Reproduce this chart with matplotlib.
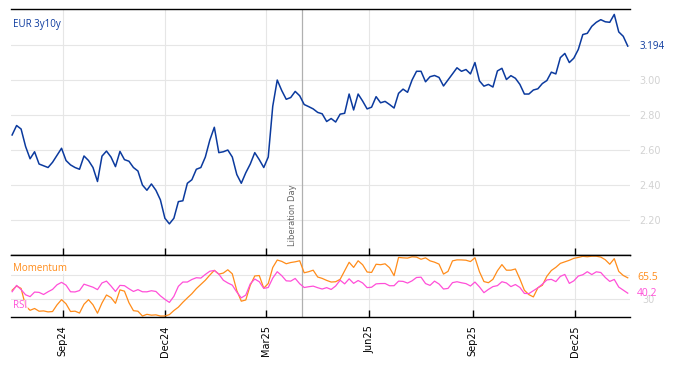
import matplotlib
matplotlib.use("Agg")
import matplotlib.pyplot as plt
import matplotlib.dates as mdates
import pandas as pd

# 数据 (每4天一个点)
start_date = "2024-07-18"
eur_3y10y = [
    2.686, 2.74, 2.72, 2.62, 2.55, 2.59, 2.52, 2.51, 2.50, 2.53,
    2.57, 2.61, 2.54, 2.515, 2.50, 2.49, 2.566, 2.54, 2.50, 2.42,
    2.565, 2.594, 2.56, 2.505, 2.592, 2.545, 2.536, 2.50, 2.48, 2.40,
    2.37, 2.406, 2.37, 2.315, 2.21, 2.178, 2.21, 2.305, 2.31, 2.41,
    2.43, 2.49, 2.50, 2.56, 2.657, 2.73, 2.585, 2.59, 2.60, 2.56,
    2.46, 2.41, 2.47, 2.52, 2.585, 2.545, 2.50, 2.56, 2.85, 3.00,
    2.94, 2.89, 2.90, 2.935, 2.91, 2.86, 2.848, 2.835, 2.815, 2.807,
    2.763, 2.78, 2.76, 2.805, 2.81, 2.92, 2.829, 2.92, 2.88, 2.835,
    2.845, 2.905, 2.87, 2.878, 2.86, 2.84, 2.924, 2.948, 2.93, 3.00,
    3.05, 3.05, 2.99, 3.019, 3.026, 3.015, 2.966, 3.00, 3.035, 3.07,
    3.05, 3.06, 3.035, 3.10, 2.995, 2.965, 2.975, 2.96, 3.052, 3.067,
    3.003, 3.025, 3.01, 2.975, 2.92, 2.92, 2.943, 2.95, 2.98, 2.997,
    3.045, 3.035, 3.128, 3.152, 3.10, 3.125, 3.175, 3.26, 3.267, 3.307,
    3.33, 3.345, 3.333, 3.33, 3.375, 3.275, 3.25, 3.194,
]
rsi = [
    42.6, 53, 46, 37.5, 34.5, 42, 41.5, 38, 42.5, 46.4,
    54, 58, 53.4, 42.5, 42.2, 44.5, 55, 52.5, 50, 46,
    57, 60, 52, 43, 53, 52.5, 47.5, 43, 46, 42.5,
    42.4, 44.2, 43, 35.8, 30, 25, 35, 51.5, 58.5, 58.5,
    62.7, 65.6, 65, 71, 76.3, 77.5, 71.6, 61.5, 57, 53.4,
    42, 32.5, 37, 55.5, 63.5, 59, 48.1, 49.5, 65, 75.5,
    69, 60.5, 60, 64.4, 55.7, 49.5, 50.8, 51.8, 49.2, 47,
    49.3, 46.3, 52, 61.5, 55.5, 63.8, 56.3, 61, 57, 49.3,
    50, 55.5, 56, 56.1, 52.4, 52.5, 60, 59.6, 56.8, 60.5,
    66, 66.5, 56, 53, 60, 55.3, 47, 48, 57.5, 59,
    57.3, 55.9, 52, 58.5, 50.5, 41, 46.4, 51, 52.6, 59,
    57, 51, 54.4, 49.6, 39.8, 39.5, 44.2, 49, 55, 62,
    62.9, 59.2, 67.8, 71, 56.3, 60.5, 68.4, 70.5, 75.5, 70.8,
    75.3, 74.2, 66, 59.5, 62.8, 50.2, 45.3, 40.2,
]
momentum = [
    45, 52, 48, 19, 12, 15, 10.5, 11, 9.4, 10,
    21, 29.5, 22.7, 10, 10.6, 7.5, 22, 29.5, 21, 7.2,
    24, 37.2, 33, 23.5, 45.6, 43.5, 24.5, 11.4, 10.5, 2.6,
    5.4, 4, 4.5, 2.6, 2.6, 4.9, 11.6, 17.2, 25.2, 32.4,
    39.3, 47.7, 54.5, 61.5, 70, 77.8, 71.5, 73.3, 78.7, 72,
    44.5, 27, 29, 53.2, 68.5, 69.2, 48.5, 56, 82.4, 94.7,
    92.5, 88.6, 90.6, 91.8, 93.5, 73.7, 75.5, 78, 66.8, 64.5,
    61.2, 58.5, 59, 63, 77.1, 91, 82.6, 93.5, 87, 75,
    74.3, 87.8, 87, 88.5, 82, 69, 99, 98.3, 97.9, 100,
    99.5, 96, 98.3, 93.4, 91.2, 88, 71.6, 76, 93.3, 95,
    94.9, 94.4, 92.2, 98.5, 75.5, 59.3, 57.4, 63, 77, 87.2,
    78, 78, 80, 63.5, 45, 37.8, 34, 49, 53.2, 68,
    77.5, 82.7, 89.2, 91.8, 94.3, 97.5, 99, 100.8, 100.1, 101,
    101, 99.6, 95.2, 87.8, 97, 76, 69.3, 65.5,
]
event_date = "2025-04-02"
event_name = "Liberation Day"
tick_dates = ["2024-09-01", "2024-12-01", "2025-03-01", "2025-06-01", "2025-09-01", "2025-12-01"]
main_ticks = [2.2, 2.4, 2.6, 2.8, 3.0, 3.2]
main_tick_labels = ["2.20", "2.40", "2.60", "2.80", "3.00", ""]  # 3.20 藏在最新值下面
osc_ticks = [30, 70]
osc_tick_labels = ["30", ""]

dates = pd.date_range(start_date, periods=len(eur_3y10y), freq="4D")

# 颜色
blue = "#0b3a9e"
orange = "#ff8c1a"
pink = "#ff4fd8"
grid_c = "#e6e6e6"
label_grey = "#d2d2d2"

plt.rcParams["font.family"] = ["DejaVu Sans"]
fig = plt.figure(figsize=(6.74, 3.66), dpi=100)
ax = fig.add_axes([0.0163, 0.3033, 0.9184, 0.6721])
ax2 = fig.add_axes([0.0163, 0.1339, 0.9184, 0.1694], sharex=ax)

# 主图
ax.plot(dates, eur_3y10y, color=blue, lw=1.1)
ax.set_ylim(2.0, 3.406)
ax.set_yticks(main_ticks)
ax.set_yticklabels(main_tick_labels)

# 下图 RSI / Momentum
ax2.plot(dates, momentum, color=orange, lw=0.9)
ax2.plot(dates, rsi, color=pink, lw=0.9)
ax2.set_ylim(1, 103)
ax2.set_yticks(osc_ticks)
ax2.set_yticklabels(osc_tick_labels)

for a in (ax, ax2):
    for side in ("left", "right"):
        a.spines[side].set_visible(False)
    for side in ("top", "bottom"):
        a.spines[side].set_linewidth(1.0)
    a.grid(True, color=grid_c, lw=0.8)
    a.set_axisbelow(True)
    a.yaxis.tick_right()
    a.tick_params(axis="y", length=0, pad=7, labelsize=7, labelcolor=label_grey)
    a.tick_params(axis="x", direction="in", length=5, width=1)
    a.axvline(pd.Timestamp(event_date), color="#b0b0b0", lw=0.9, zorder=1)

ax2.tick_params(axis="y", pad=9)
ax.tick_params(axis="x", labelbottom=False)
ax2.set_xticks(pd.to_datetime(tick_dates))
ax2.xaxis.set_major_formatter(mdates.DateFormatter("%b%y"))
ax2.tick_params(axis="x", labelsize=7, labelrotation=90, pad=6)
ax2.set_xlim(dates[0] - pd.Timedelta(days=1), dates[-1] + pd.Timedelta(days=2))

# 标签
ax.text(0.003, 0.935, "EUR 3y10y", transform=ax.transAxes, color=blue,
        fontsize=7, family="Open Sans", ha="left", va="center")
ax.text(pd.Timestamp(event_date) - pd.Timedelta(days=4), 2.05, event_name,
        rotation=90, fontsize=6, color="#666666", ha="right", va="bottom")
box = dict(facecolor="white", edgecolor="none", alpha=0.75, pad=0.5)
ax2.text(0.003, 0.79, "Momentum", transform=ax2.transAxes, color=orange,
         fontsize=7, family="Open Sans", ha="left", va="center", bbox=box)
ax2.text(0.003, 0.18, "RSI", transform=ax2.transAxes, color=pink,
         fontsize=7, family="Open Sans", ha="left", va="center", bbox=box)

# 右侧最新值
ax.annotate(f"{eur_3y10y[-1]:.3f}", xy=(1, eur_3y10y[-1]), xycoords=("axes fraction", "data"),
            xytext=(7, 0), textcoords="offset points", color=blue, fontsize=7,
            family="Open Sans", va="center")
ax2.annotate(f"{momentum[-1]:.1f}", xy=(1, momentum[-1]), xycoords=("axes fraction", "data"),
             xytext=(5, 0), textcoords="offset points", color=orange, fontsize=7.5,
             family="Open Sans", va="center")
ax2.annotate(f"{rsi[-1]:.1f}", xy=(1, rsi[-1]), xycoords=("axes fraction", "data"),
             xytext=(5, 0), textcoords="offset points", color=pink, fontsize=7.5,
             family="Open Sans", va="center")

fig.savefig("out.png", dpi=100)
plt.close(fig)
